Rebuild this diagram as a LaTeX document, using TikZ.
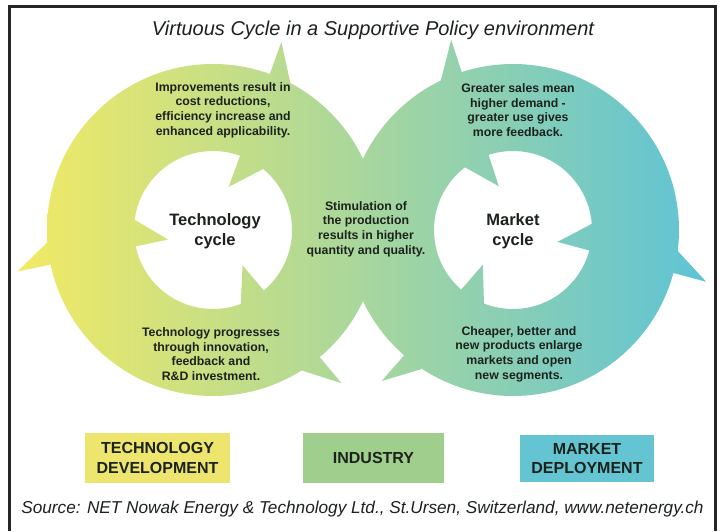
\documentclass[tikz,border=0pt]{standalone}
\usepackage{fontspec}
\setmainfont{Liberation Sans}
\usetikzlibrary{calc}

\definecolor{cycY}{RGB}{242,234,100}
\definecolor{cycG}{RGB}{160,208,140}
\definecolor{cycT}{RGB}{94,195,214}
\definecolor{boxY}{RGB}{237,229,110}
\definecolor{boxG}{RGB}{160,206,140}
\definecolor{boxT}{RGB}{100,196,210}
\definecolor{ink}{RGB}{28,34,28}

% radii of the two circular arrows
\def\Rin{79}
\def\Rout{166}
\def\Rsi{46}   % inner barb point
\def\Rso{200}  % outer barb point
\def\Rmid{123} % arrow tip

% one horizontal gradient shared by every piece of both cycles
\newcommand\cycshade{\shade[left color=cycY, middle color=cycG, right color=cycT] (18,0) rectangle (708,531);}

\begin{document}
\begin{tikzpicture}[x=1pt, y=-1pt,
  note/.style={font=\bfseries\fontsize{12.3}{14.6}\selectfont, text=ink, align=center, inner sep=0pt},
  cyclbl/.style={font=\bfseries\fontsize{16.5}{19.5}\selectfont, text=ink, align=center, inner sep=0pt},
  stagebox/.style={font=\bfseries\fontsize{16}{19.5}\selectfont, text=ink, align=center, inner sep=0pt},
  caption/.style={font=\itshape, text=ink, inner sep=0pt, anchor=base}]
\useasboundingbox (0,0) rectangle (724,531);
\fill[white] (0,0) rectangle (724,531);

% frame (open at the bottom)
\draw[line width=2.5pt, black!85] (9.5,531) -- (9.5,6.5) -- (715.5,6.5) -- (715.5,531);

% ring bands of the technology cycle and the market cycle
\foreach \cx in {213,513} {
  \begin{scope}[even odd rule]
    \clip (\cx,230) circle[radius=\Rout] (\cx,230) circle[radius=\Rin];
    \cycshade
  \end{scope}
}

% arrow heads: centre x / base angle / tip angle
\foreach \cx/\b/\t in {213/168/196, 213/290/318, 213/50/78, 513/15/-13, 513/252/224, 513/131/103} {
  \begin{scope}
    \clip ([shift={(\cx,230)}]\b:\Rso) -- ([shift={(\cx,230)}]\b:\Rsi) -- ([shift={(\cx,230)}]\t:\Rmid) -- cycle;
    \cycshade
  \end{scope}
}

% title and source
\node[caption, font=\itshape\fontsize{20}{24}\selectfont] (title) at (373,35) {Virtuous Cycle in a Supportive Policy environment};
\node[caption, font=\itshape\fontsize{17.2}{20}\selectfont] (source) at (362.5,513) {Source: NET Nowak Energy \& Technology Ltd., St.Ursen, Switzerland, www.netenergy.ch};

% texts on the cycles
\node[note] (improve) at (223,110) {Improvements result in\\cost reductions,\\efficiency increase and\\enhanced applicability.};
\node[note] (sales) at (518,110) {Greater sales mean\\higher demand -\\greater use gives\\more feedback.};
\node[note] (progress) at (211,354) {Technology progresses\\through innovation,\\feedback and\\R\&D investment.};
\node[note] (cheaper) at (519,354) {Cheaper, better and\\new products enlarge\\markets and open\\new segments.};
\node[note] (stimul) at (366,229) {Stimulation of\\the production\\results in higher\\quantity and quality.};

\node[cyclbl] (techcyc) at (215,231) {Technology\\cycle};
\node[cyclbl] (marketcyc) at (513,231) {Market\\cycle};

% stage boxes
\node[stagebox, fill=boxY, minimum width=145pt, minimum height=50pt] (techdev) at (157.5,458) {TECHNOLOGY\\DEVELOPMENT};
\node[stagebox, fill=boxG, minimum width=141pt, minimum height=50pt] (industry) at (373.5,458) {INDUSTRY};
\node[stagebox, fill=boxT, minimum width=134pt, minimum height=47pt] (marketdep) at (587,458.5) {MARKET\\DEPLOYMENT};
\end{tikzpicture}
\end{document}
